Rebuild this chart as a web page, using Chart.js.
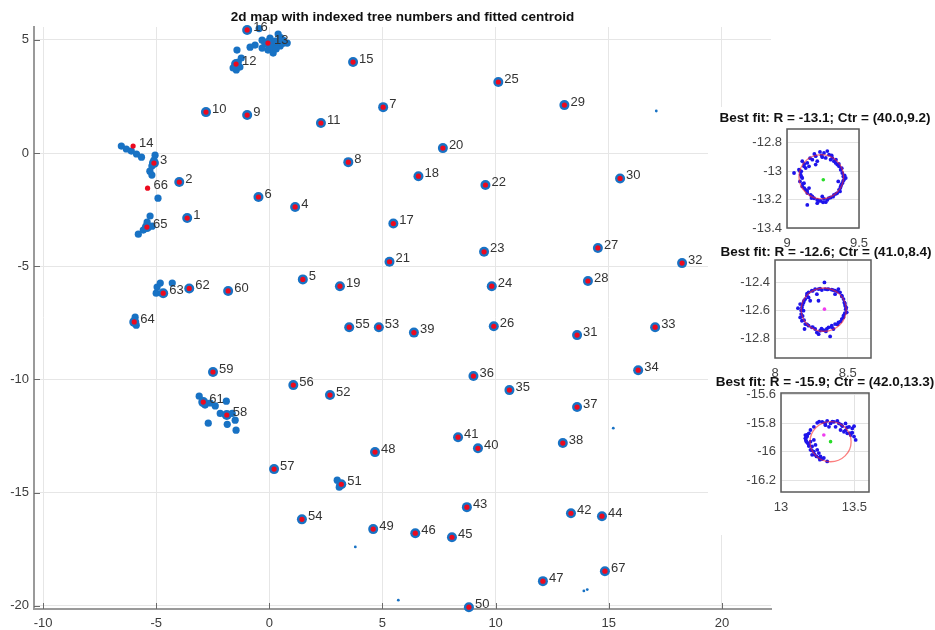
<!DOCTYPE html>
<html>
<head>
<meta charset="utf-8">
<script src="https://cdn.jsdelivr.net/npm/chart.js@4/dist/chart.umd.min.js"></script>
<style>
  html, body { margin: 0; padding: 0; background: #fff; }
  #wrap { position: relative; width: 935px; height: 630px; overflow: hidden; }
  #main { position: absolute; left: 0; top: 0; }
  #insetBg { position: absolute; left: 708px; top: 107px; width: 227px; height: 428px; background: #fff; }
  .inset { position: absolute; left: 708px; }
</style>
</head>
<body>
<div id="wrap">
  <canvas id="main" width="935" height="630"></canvas>
  <div id="insetBg"></div>
  <canvas id="fit1" class="inset" width="227" height="145" style="top:107px"></canvas>
  <canvas id="fit2" class="inset" width="227" height="140" style="top:240px"></canvas>
  <canvas id="fit3" class="inset" width="227" height="150" style="top:370px"></canvas>
</div>
<script>
// ---- tree map: fitted centroids (m) ----
const treeIds = [1,2,3,4,5,6,7,8,9,10,11,12,13,14,15,16,17,18,19,20,21,22,23,24,25,26,27,28,29,30,31,32,33,34,
  35,36,37,38,39,40,41,42,43,44,45,46,47,48,49,50,51,52,53,54,55,56,57,58,59,60,61,62,63,64,65,66,67];
const treeX = [-3.63,-3.98,-5.10,1.14,1.48,-0.48,5.03,3.49,-0.98,-2.80,2.28,-1.47,-0.06,-6.02,3.70,-0.98,5.48,6.59,3.12,7.67,
  5.31,9.55,9.49,9.83,10.12,9.92,14.52,14.08,13.04,15.50,13.60,18.24,17.05,16.30,10.61,9.02,13.60,12.97,6.39,9.22,
  8.34,13.33,8.73,14.70,8.07,6.45,12.09,4.67,4.59,8.82,3.18,2.68,4.84,1.44,3.53,1.06,0.21,-1.88,-2.49,-1.82,
  -2.92,-3.54,-4.69,-5.97,-5.41,-5.38,14.83];
const treeY = [-2.87,-1.28,-0.44,-2.38,-5.58,-1.94,2.03,-0.40,1.68,1.81,1.33,3.93,4.86,0.31,4.02,5.44,-3.11,-1.02,-5.88,0.22,
  -4.80,-1.41,-4.36,-5.88,3.14,-7.65,-4.19,-5.65,2.12,-1.12,-8.04,-4.86,-7.69,-9.59,-10.47,-9.85,-11.22,-12.81,-7.93,-13.04,
  -12.55,-15.91,-15.64,-16.04,-16.97,-16.79,-18.91,-13.21,-16.61,-20.06,-14.63,-10.69,-7.69,-16.18,-7.69,-10.25,-13.96,-11.57,-9.67,-6.09,
  -11.00,-5.98,-6.19,-7.46,-3.27,-1.55,-18.47];
// trees whose centroid has no scan returns on top of it
const bareTrees = [14, 66];

// extra scan returns for the larger / irregular crowns
const scanFragX = [-0.63,-0.32,0.03,0.39,0.61,0.79,-0.06,0.17,-0.32,0.48,-0.85,0.25,0.00,0.10,0.35,0.60,-0.20,0.50,0.30,
  -1.43,-0.45,
  -1.60,-1.37,-1.24,-1.46,-1.30,
  -6.54,-6.32,-6.10,-5.87,-5.65,
  -5.05,-5.10,-5.19,-5.28,-5.19,-4.92,
  -5.40,-5.27,-5.57,-5.79,-5.18,
  -4.96,-5.00,-4.82,-4.29,
  -5.93,-5.88,
  -3.10,-2.84,-2.61,-2.39,-1.90,-2.17,-1.64,-1.51,-1.86,-2.70,-1.47,
  3.00,3.09];
const scanFragY = [4.77,4.99,5.08,5.26,4.99,4.86,4.55,4.42,4.64,4.73,4.68,4.95,4.78,4.70,4.85,4.85,4.85,5.10,4.60,
  4.55,5.50,
  3.76,4.02,4.20,3.67,3.80,
  0.31,0.18,0.09,-0.04,-0.18,
  -0.09,-0.31,-0.57,-0.80,-0.97,-1.99,
  -3.05,-2.78,-3.40,-3.58,-3.23,
  -5.92,-6.19,-5.74,-5.74,
  -7.25,-7.60,
  -10.74,-11.13,-11.04,-11.17,-10.96,-11.50,-11.50,-11.80,-11.98,-11.93,-12.24,
  -14.45,-14.76];
// isolated single returns
const strayX = [17.10, 15.20, 3.80, 5.70, 13.90, 14.05];
const strayY = [1.86, -12.15, -17.40, -19.75, -19.34, -19.28];

const mainTitle = '2d map with indexed tree numbers and fitted centroid';

// ---- circle fits for three sample stems ----
const fitTitles = [
  'Best fit: R = -13.1; Ctr = (40.0,9.2)',
  'Best fit: R = -12.6; Ctr = (41.0,8.4)',
  'Best fit: R = -15.9; Ctr = (42.0,13.3)'
];
const ring1X = [9.229,9.257,9.292,9.199,9.269,9.303,9.176,9.210,9.326,9.245,
  9.141,9.118,9.106,9.083,9.049,9.095,9.106,9.090,9.118,9.106,9.130,9.141,9.153,
  9.164,9.188,9.210,9.234,9.257,9.280,9.303,9.326,9.141,9.210,9.269,
  9.349,9.361,9.373,9.384,9.396,9.391,9.384,9.373,9.361,9.349,9.408,9.356,
  9.153,9.199,9.338,9.315,9.130,9.099,9.176,9.245,9.377,9.368,
  9.190,9.280,9.310,9.240,9.160,9.120,9.090,9.100,9.110,9.120,9.140,
  9.170,9.220,9.250,9.290,9.320,9.340,9.370,9.390,9.400,9.380,9.360,9.340];
const ring1Y = [-12.866,-12.873,-12.885,-12.896,-12.908,-12.920,-12.920,-12.931,-12.931,-12.903,
  -12.943,-12.967,-12.931,-12.991,-13.014,-13.026,-13.049,-13.073,-13.085,-13.108,-13.132,-13.155,-13.120,
  -13.167,-13.191,-13.203,-13.210,-13.196,-13.203,-13.186,-13.167,-13.238,-13.226,-13.219,
  -13.155,-13.132,-13.108,-13.085,-13.061,-13.038,-13.014,-12.991,-12.967,-12.955,-13.049,-13.073,
  -12.967,-12.955,-12.943,-12.908,-12.979,-13.002,-13.179,-13.179,-13.096,-13.143,
  -12.880,-12.860,-12.890,-12.890,-12.910,-12.950,-13.000,-13.040,-13.090,-13.120,-13.140,
  -13.190,-13.210,-13.220,-13.190,-13.180,-13.160,-13.120,-13.070,-13.030,-12.980,-12.950,-12.920];
const ring2X = [8.340,8.276,8.299,8.322,8.345,8.368,8.390,8.413,8.436,8.447,8.253,8.231,
  8.219,8.208,8.196,8.173,8.158,8.185,8.196,8.180,8.173,8.185,8.231,8.242,
  8.459,8.471,8.477,8.482,8.486,8.493,8.471,8.459,8.436,8.413,
  8.208,8.203,8.231,8.253,8.276,8.288,8.310,8.334,8.356,8.368,8.390,8.413,8.379,8.402,
  8.299,8.288,
  8.260,8.310,8.360,8.400,8.430,8.220,8.200,8.190,8.180,8.190,8.200,
  8.460,8.480,8.490,8.480,8.470,8.450,8.220,8.260,8.320,8.350,8.390,8.430,8.300];
const ring2Y = [-12.400,-12.448,-12.448,-12.455,-12.448,-12.448,-12.452,-12.459,-12.448,-12.471,-12.459,-12.471,
  -12.495,-12.519,-12.543,-12.555,-12.584,-12.579,-12.602,-12.626,-12.650,-12.674,-12.507,-12.531,
  -12.495,-12.519,-12.543,-12.567,-12.591,-12.614,-12.638,-12.662,-12.686,-12.484,
  -12.698,-12.733,-12.709,-12.721,-12.733,-12.757,-12.745,-12.741,-12.733,-12.721,-12.709,-12.698,-12.786,-12.733,
  -12.531,-12.484,
  -12.460,-12.445,-12.450,-12.455,-12.465,-12.480,-12.530,-12.560,-12.600,-12.640,-12.670,
  -12.500,-12.550,-12.580,-12.620,-12.650,-12.680,-12.700,-12.720,-12.730,-12.750,-12.720,-12.700,-12.770];
const ring3X = [13.247,13.281,13.315,13.338,13.361,13.384,13.395,13.372,13.418,13.440,13.464,13.486,13.498,13.327,13.303,
  13.406,13.429,13.452,13.475,13.498,13.509,13.486,
  13.224,13.201,13.190,13.178,13.166,13.173,13.183,13.201,13.224,13.212,13.235,13.201,13.224,13.247,13.258,13.212,
  13.242,13.269,13.292,13.315,13.265,13.190,13.166,
  13.260,13.300,13.350,13.410,13.450,13.180,13.170,13.190,13.210,13.230,13.260,13.280,13.170,13.440,13.470];
const ring3Y = [-15.798,-15.791,-15.784,-15.802,-15.791,-15.784,-15.802,-15.826,-15.821,-15.802,-15.826,-15.837,-15.821,-15.826,-15.814,
  -15.848,-15.860,-15.871,-15.883,-15.894,-15.917,-15.867,
  -15.826,-15.848,-15.871,-15.894,-15.906,-15.929,-15.940,-15.929,-15.917,-15.963,-15.952,-15.986,-15.998,-15.986,-16.009,-16.021,
  -16.032,-16.032,-16.043,-16.067,-16.055,-15.952,-15.883,
  -15.790,-15.800,-15.790,-15.810,-15.830,-15.880,-15.920,-15.960,-15.990,-16.020,-16.040,-16.050,-15.900,-15.850,-15.870];
// fitted circle centre and radius, plus the marked centre points
const circleCX = [9.238, 8.335, 13.338];
const circleCY = [-13.040, -12.595, -15.929];
const circleR = [0.155, 0.155, 0.140];
const greenCentres = [[9.252, -13.061], null, [13.338, -15.929]];
const magentaCentres = [null, [8.340, -12.591], [13.292, -15.883]];

// ---------------------------------------------------------------
const FONT = '"Liberation Sans", Arial, Helvetica, sans-serif';
const BLUE = 'rgb(24,114,196)';
const RED = 'rgb(236,10,30)';
const toPts = (xs, ys) => xs.map((x, i) => ({ x, y: ys[i] }));
const fmt = v => String(Math.round(v * 100) / 100);

const blobPts = [];
const centroidPts = [];
treeIds.forEach((id, i) => {
  centroidPts.push({ x: treeX[i], y: treeY[i] });
  if (!bareTrees.includes(id)) blobPts.push({ x: treeX[i], y: treeY[i] });
});

const treeLabels = {
  id: 'treeLabels',
  afterDatasetsDraw(chart) {
    const { ctx, scales: { x, y } } = chart;
    ctx.save();
    ctx.font = '13px ' + FONT;
    ctx.fillStyle = '#333';
    ctx.textAlign = 'left';
    ctx.textBaseline = 'middle';
    treeIds.forEach((id, i) => {
      ctx.fillText(String(id), x.getPixelForValue(treeX[i]) + 6, y.getPixelForValue(treeY[i]) - 3);
    });
    ctx.restore();
  }
};

const inwardTicks = {
  id: 'inwardTicks',
  afterDraw(chart) {
    const { ctx, chartArea: a, scales: { x, y } } = chart;
    ctx.save();
    ctx.strokeStyle = '#6a6a6a';
    ctx.lineWidth = 1;
    ctx.beginPath();
    x.ticks.forEach(t => { const p = Math.round(x.getPixelForValue(t.value)) + 0.5; ctx.moveTo(p, a.bottom); ctx.lineTo(p, a.bottom - 6); });
    y.ticks.forEach(t => { const p = Math.round(y.getPixelForValue(t.value)) + 0.5; ctx.moveTo(a.left, p); ctx.lineTo(a.left + 6, p); });
    ctx.stroke();
    ctx.restore();
  }
};

const titleText = (text, cx, cy, size) => ({
  id: 'titleText',
  afterDraw(chart) {
    const ctx = chart.ctx;
    ctx.save();
    ctx.font = 'bold ' + size + 'px ' + FONT;
    ctx.fillStyle = '#111';
    ctx.textAlign = 'center';
    ctx.textBaseline = 'middle';
    ctx.fillText(text, cx, cy);
    ctx.restore();
  }
});

new Chart(document.getElementById('main'), {
  type: 'scatter',
  data: {
    datasets: [
      { data: centroidPts, order: 0, pointRadius: 2.6, backgroundColor: RED, borderWidth: 0, clip: false },
      { data: blobPts, order: 1, pointRadius: 5, backgroundColor: BLUE, borderWidth: 0, clip: false },
      { data: toPts(scanFragX, scanFragY), order: 2, pointRadius: 3.6, backgroundColor: BLUE, borderWidth: 0, clip: false },
      { data: toPts(strayX, strayY), order: 3, pointRadius: 1.4, backgroundColor: BLUE, borderWidth: 0, clip: false }
    ]
  },
  options: {
    responsive: false,
    animation: false,
    events: [],
    layout: { padding: { left: 0, top: 27, right: 164, bottom: 0 } },
    plugins: { legend: { display: false }, tooltip: { enabled: false }, title: { display: false } },
    scales: {
      x: {
        type: 'linear', min: -10.4, max: 22.17,
        afterFit: s => { s.height = 21; },
        ticks: { stepSize: 5, includeBounds: false, color: '#3c3c3c', font: { family: FONT, size: 13 }, padding: 7, maxRotation: 0, callback: fmt },
        grid: { color: '#e6e6e6', drawTicks: false },
        border: { color: '#9a9a9a', width: 2 }
      },
      y: {
        type: 'linear', min: -20.14, max: 5.57,
        afterFit: s => { s.width = 34; },
        ticks: { stepSize: 5, includeBounds: false, color: '#3c3c3c', font: { family: FONT, size: 13 }, padding: 5, callback: fmt },
        grid: { color: '#e6e6e6', drawTicks: false },
        border: { color: '#9a9a9a', width: 2 }
      }
    }
  },
  plugins: [treeLabels, inwardTicks, titleText(mainTitle, 402.5, 17, 13.5)]
});

// one small circle-fit panel
function fitPanel(canvasId, k, ringX, ringY, lim, box, canvasH, titlePos) {
  const fitCircle = {
    id: 'fitCircle',
    afterDatasetsDraw(chart) {
      const { ctx, scales: { x, y } } = chart;
      const cx = x.getPixelForValue(circleCX[k]);
      const cy = y.getPixelForValue(circleCY[k]);
      const rx = Math.abs(x.getPixelForValue(circleCX[k] + circleR[k]) - cx);
      const ry = Math.abs(y.getPixelForValue(circleCY[k] + circleR[k]) - cy);
      ctx.save();
      ctx.strokeStyle = 'rgba(250,40,40,0.6)';
      ctx.lineWidth = 1.3;
      ctx.beginPath();
      ctx.ellipse(cx, cy, rx, ry, 0, 0, Math.PI * 2);
      ctx.stroke();
      ctx.restore();
    },
    afterDraw(chart) {
      const { ctx, chartArea: a } = chart;
      ctx.save();
      ctx.strokeStyle = '#5a5a5a';
      ctx.lineWidth = 1.5;
      ctx.strokeRect(a.left, a.top, a.right - a.left, a.bottom - a.top);
      ctx.restore();
    }
  };
  const ds = [];
  if (greenCentres[k]) ds.push({ data: [{ x: greenCentres[k][0], y: greenCentres[k][1] }], pointRadius: 1.8, backgroundColor: 'rgb(40,220,40)', borderWidth: 0 });
  if (magentaCentres[k]) ds.push({ data: [{ x: magentaCentres[k][0], y: magentaCentres[k][1] }], pointRadius: 1.8, backgroundColor: 'rgb(240,60,240)', borderWidth: 0 });
  ds.push({ data: toPts(ringX, ringY), pointRadius: 1.9, backgroundColor: 'rgb(30,20,235)', borderWidth: 0 });
  new Chart(document.getElementById(canvasId), {
    type: 'scatter',
    data: { datasets: ds },
    options: {
      responsive: false,
      animation: false,
      events: [],
      layout: { padding: { left: 0, top: box.t, right: 227 - box.r, bottom: 0 } },
      plugins: { legend: { display: false }, tooltip: { enabled: false }, title: { display: false } },
      scales: {
        x: {
          type: 'linear', min: lim[0], max: lim[1],
          afterFit: s => { s.height = canvasH - box.b; },
          ticks: { stepSize: 0.5, includeBounds: false, color: '#444', font: { family: FONT, size: 13 }, padding: 8, maxRotation: 0, callback: fmt },
          grid: { color: '#e2e2e2', drawTicks: false },
          border: { display: false }
        },
        y: {
          type: 'linear', min: lim[2], max: lim[3],
          afterFit: s => { s.width = box.l; },
          ticks: { stepSize: 0.2, includeBounds: false, color: '#444', font: { family: FONT, size: 13 }, padding: 5, callback: fmt },
          grid: { color: '#e2e2e2', drawTicks: false },
          border: { display: false }
        }
      }
    },
    plugins: [fitCircle, titleText(fitTitles[k], titlePos[0], titlePos[1], 13.5)]
  });
}

fitPanel('fit1', 0, ring1X, ring1Y, [9.0, 9.5, -13.4, -12.705], { l: 79, r: 151, t: 22, b: 121 }, 145, [117, 11]);
fitPanel('fit2', 1, ring2X, ring2Y, [8.0, 8.66, -12.94, -12.24], { l: 67, r: 163, t: 20, b: 118 }, 140, [118, 12]);
fitPanel('fit3', 2, ring3X, ring3Y, [13.0, 13.6, -16.28, -15.59], { l: 73, r: 161, t: 23, b: 122 }, 150, [117, 12]);
</script>
</body>
</html>
